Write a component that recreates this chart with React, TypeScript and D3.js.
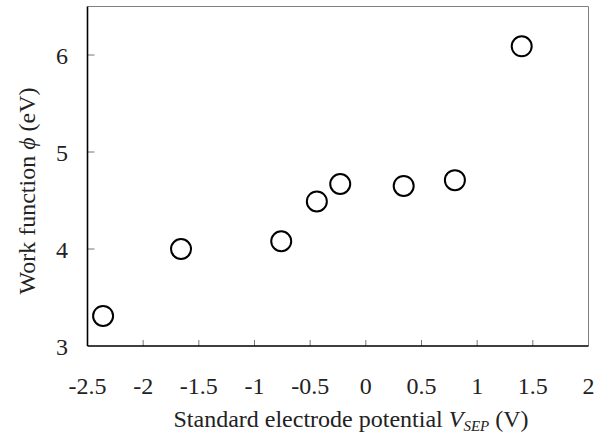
import React from "react";
import * as d3 from "d3";

const potentials = [-2.36, -1.66, -0.76, -0.44, -0.23, 0.34, 0.8, 1.4];
const workFunctions = [3.31, 4.0, 4.08, 4.49, 4.67, 4.65, 4.71, 6.09];
const xTicks = [-2.5, -2, -1.5, -1, -0.5, 0, 0.5, 1, 1.5, 2];
const yTicks = [3, 4, 5, 6];

const W = 608;
const H = 439;
const FONT = "'Liberation Serif', 'Times New Roman', serif";
const ts: React.CSSProperties = { fontFamily: FONT };

export default function App() {
  const x = d3.scaleLinear().domain([-2.5, 2]).range([87.5, 588.5]);
  const y = d3.scaleLinear().domain([3, 6.5]).range([346, 6.5]);
  const [x0, x1] = x.range();
  const [y0, y1] = y.range();
  return (
    <svg width={W} height={H} style={{ position: "absolute", left: 0, top: 0, background: "#fff" }}>
      <rect x={0} y={0} width={W} height={H} fill="#fff" />
      <line x1={x0} x2={x1} y1={y1} y2={y1} stroke="#808080" strokeWidth={1} />
      <line x1={x1} x2={x1} y1={y1} y2={y0} stroke="#808080" strokeWidth={1} />
      {xTicks.map((t) => (
        <g key={"xt" + t}>
          {t > -2.5 && t < 2 && (
            <line x1={x(t)} x2={x(t)} y1={y0} y2={y0 - 6} stroke="#777" strokeWidth={1} />
          )}
          <text x={x(t)} y={394} textAnchor="middle" fontSize={24} fill="#222" style={ts}>
            {String(t)}
          </text>
        </g>
      ))}
      {yTicks.map((t) => (
        <g key={"yt" + t}>
          {t > 3 && (
            <line x1={x0} x2={x0 + 7} y1={y(t)} y2={y(t)} stroke="#777" strokeWidth={1} />
          )}
          <text x={68} y={y(t) + 9} textAnchor="end" fontSize={24} fill="#222" style={ts}>
            {t}
          </text>
        </g>
      ))}
      <line x1={x0} x2={x0} y1={y1} y2={y0} stroke="#000" strokeWidth={1.6} />
      <line x1={x0} x2={x1} y1={y0} y2={y0} stroke="#000" strokeWidth={1.6} />
      {potentials.map((v, i) => (
        <circle key={"p" + i} cx={x(v)} cy={y(workFunctions[i])} r={10} fill="none" stroke="#000" strokeWidth={2} />
      ))}
      <text x={351} y={427} textAnchor="middle" fontSize={24} fill="#222" style={ts}>
        Standard electrode potential{" "}
        <tspan fontStyle="italic">V</tspan>
        <tspan fontStyle="italic" fontSize={15} dy={4}>SEP</tspan>
        <tspan dy={-4}> (V)</tspan>
      </text>
      <text transform="translate(35,191) rotate(-90)" textAnchor="middle" fontSize={24} fill="#222" style={ts}>
        Work function <tspan fontStyle="italic">ϕ</tspan> (eV)
      </text>
    </svg>
  );
}
